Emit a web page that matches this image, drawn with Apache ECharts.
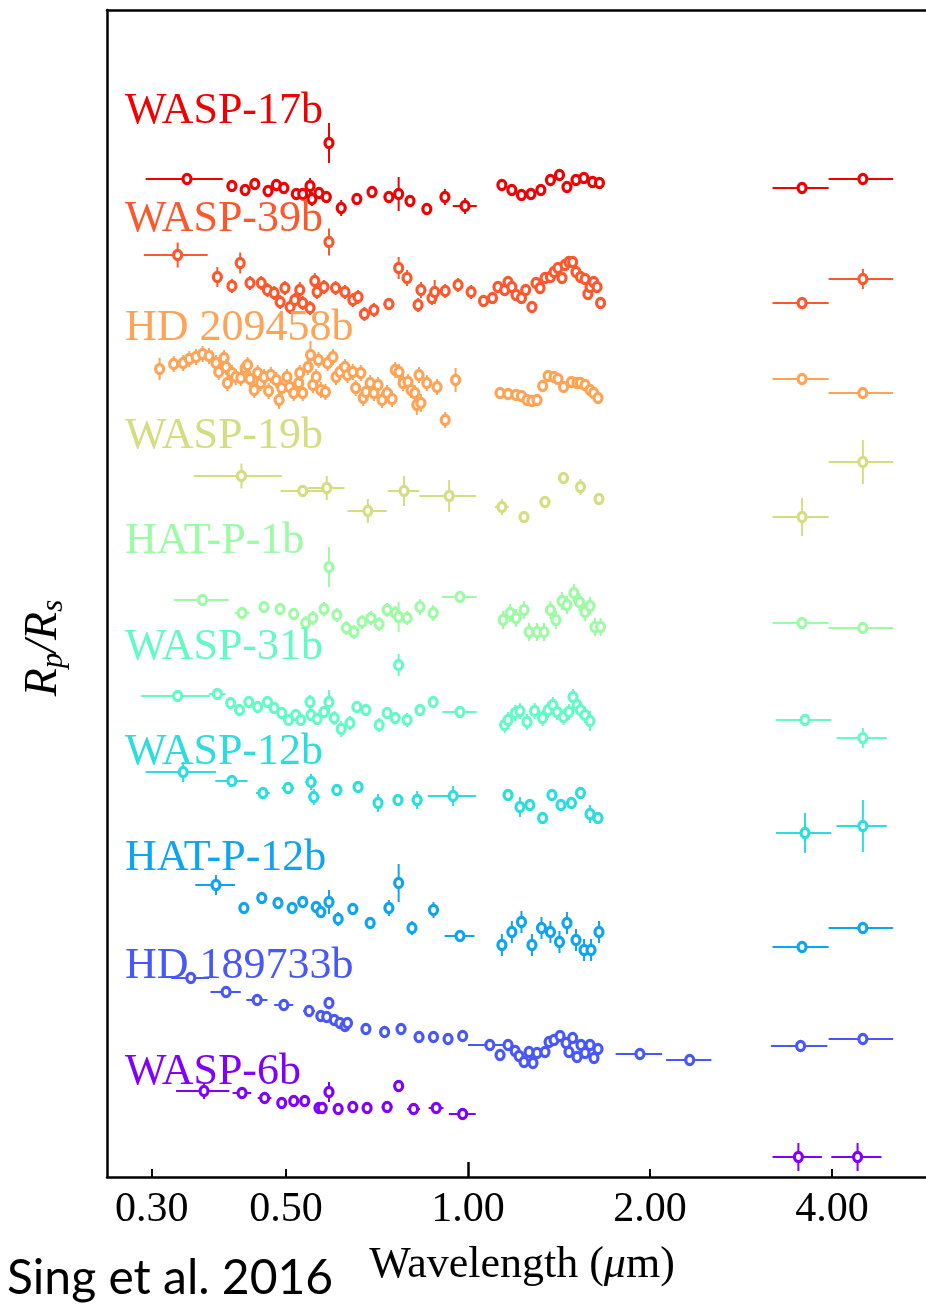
<!DOCTYPE html>
<html><head><meta charset="utf-8">
<script src="https://cdn.jsdelivr.net/npm/echarts@6/dist/echarts.min.js"></script>
<style>html,body{margin:0;padding:0;background:#fff;}#c{width:926px;height:1305px;}</style>
</head><body><div id="c"></div>
<script>
// Each point: [wavelength (um), Rp/Rs (offset, arbitrary units), half bin width (um), 1-sigma error]
const WASP17b = [
 [0.343,99.8,0.05,0.3],[0.407,99.1,0.008,0.6],[0.428,98.7,0.008,0.6],[0.444,99.3,0.008,0.6],[0.467,98.6,0.008,0.6],
 [0.482,99.2,0.008,0.6],[0.496,98.9,0.008,0.6],[0.520,98.3,0.008,0.6],[0.533,98.3,0.008,0.6],[0.548,99.1,0.008,0.8],
 [0.552,97.8,0.008,0.7],[0.567,98.4,0.008,0.6],[0.583,98.0,0.008,0.6],[0.589,103.4,0.003,2.0],[0.617,96.9,0.012,0.8],
 [0.655,97.8,0.01,0.6],[0.694,98.5,0.01,0.6],[0.740,98.0,0.01,0.6],[0.768,98.3,0.004,1.7],[0.802,97.6,0.01,0.6],
 [0.855,96.8,0.01,0.6],[0.916,98.0,0.015,0.8],[0.989,97.1,0.045,0.8],
 [1.138,99.2,0.01,0.6],[1.182,98.7,0.01,0.5],[1.226,98.2,0.01,0.5],[1.271,98.3,0.01,0.5],[1.320,98.7,0.01,0.5],
 [1.369,99.7,0.01,0.5],[1.417,100.2,0.01,0.6],[1.458,99.0,0.01,0.5],[1.509,99.7,0.01,0.5],[1.555,99.9,0.01,0.6],
 [1.607,99.5,0.01,0.6],[1.650,99.4,0.01,0.6],
 [3.57,98.9,0.38,0.3],[4.50,99.8,0.55,0.3]
];
const WASP39b = [
 [0.331,92.2,0.04,1.25],[0.385,90.0,0.006,1.0],[0.407,89.1,0.006,0.7],[0.420,91.4,0.006,1.05],[0.436,89.4,0.006,0.7],
 [0.455,89.4,0.006,0.7],[0.466,88.7,0.006,0.7],[0.478,88.4,0.006,0.7],[0.489,87.5,0.006,0.7],[0.498,88.9,0.006,0.7],
 [0.508,87.0,0.006,0.7],[0.517,87.7,0.006,0.7],[0.527,88.7,0.006,0.8],[0.533,87.4,0.006,0.7],[0.548,86.9,0.006,0.7],
 [0.558,89.6,0.006,0.8],[0.563,88.5,0.006,0.7],[0.578,89.0,0.006,0.7],[0.589,93.5,0.003,1.35],[0.604,88.9,0.006,0.7],
 [0.626,88.5,0.006,0.7],[0.645,87.7,0.006,0.7],[0.658,88.0,0.006,0.7],[0.674,86.3,0.006,0.7],[0.699,86.7,0.006,0.7],
 [0.740,87.3,0.015,0.5],[0.768,90.9,0.004,1.1],[0.793,89.9,0.006,0.8],[0.827,87.2,0.006,0.7],[0.836,88.7,0.006,0.8],
 [0.872,87.9,0.006,0.7],[0.881,88.5,0.006,1.2],[0.917,88.6,0.006,0.7],[0.963,89.2,0.006,0.7],[1.012,88.5,0.006,0.7],
 [1.061,87.6,0.006,0.6],[1.098,87.9,0.006,0.6],[1.121,89.0,0.006,0.6],[1.150,88.7,0.006,0.6],[1.165,89.5,0.006,0.6],
 [1.182,89.0,0.006,0.6],[1.201,88.2,0.006,0.6],[1.226,87.9,0.006,0.6],[1.246,88.7,0.006,0.6],[1.276,87.0,0.006,0.6],
 [1.296,89.4,0.006,0.6],[1.316,88.9,0.006,0.6],[1.341,89.9,0.006,0.6],[1.369,90.0,0.006,0.6],[1.388,90.5,0.006,0.6],
 [1.409,90.9,0.006,0.6],[1.431,89.9,0.006,0.6],[1.447,91.2,0.006,0.6],[1.469,91.5,0.006,0.6],[1.490,91.5,0.006,0.6],
 [1.509,90.5,0.006,0.6],[1.535,90.0,0.006,0.6],[1.562,89.8,0.006,0.6],[1.579,88.3,0.006,0.6],[1.592,89.0,0.006,0.6],
 [1.614,89.5,0.006,0.6],[1.635,89.0,0.006,0.6],[1.657,87.4,0.006,0.6],
 [3.57,87.4,0.38,0.4],[4.50,89.8,0.55,1.0]
];
const HD209458b = [
 [0.309,80.8,0.004,1.1],[0.326,81.3,0.004,0.8],[0.338,81.4,0.004,0.8],[0.346,81.8,0.004,0.8],[0.355,82.0,0.004,0.8],
 [0.364,82.3,0.004,0.8],[0.373,82.1,0.004,0.8],[0.383,81.4,0.004,0.8],[0.387,80.5,0.004,0.8],[0.395,81.9,0.004,0.8],
 [0.398,81.0,0.004,0.8],[0.400,79.4,0.004,0.8],[0.407,80.4,0.004,0.8],[0.413,80.0,0.004,0.8],[0.421,79.9,0.004,0.8],
 [0.428,80.9,0.004,0.8],[0.432,81.2,0.004,0.8],[0.436,79.8,0.004,0.8],[0.443,78.7,0.004,0.8],[0.449,80.4,0.004,0.8],
 [0.454,79.4,0.004,0.8],[0.460,80.0,0.004,0.8],[0.468,78.6,0.004,0.8],[0.472,80.2,0.004,0.8],[0.482,79.7,0.004,0.8],
 [0.487,77.7,0.004,0.9],[0.492,78.9,0.004,0.8],[0.502,80.0,0.004,0.8],[0.507,79.0,0.004,0.8],[0.515,78.4,0.004,0.8],
 [0.525,79.4,0.004,0.8],[0.527,80.4,0.004,0.8],[0.533,78.4,0.004,0.8],[0.544,81.0,0.004,0.8],[0.549,82.2,0.004,1.4],
 [0.554,79.2,0.004,0.8],[0.561,80.0,0.004,0.8],[0.566,81.7,0.004,0.8],[0.571,78.7,0.004,0.8],[0.581,78.5,0.004,0.8],
 [0.586,81.4,0.004,0.8],[0.598,82.0,0.004,0.8],[0.605,80.0,0.004,0.8],[0.614,80.5,0.004,0.8],[0.626,81.0,0.004,0.8],
 [0.632,80.2,0.004,0.8],[0.645,80.5,0.004,0.8],[0.652,78.9,0.004,0.8],[0.665,80.4,0.004,0.8],[0.671,77.9,0.004,0.8],
 [0.678,78.5,0.004,0.8],[0.689,79.4,0.004,0.8],[0.699,78.4,0.004,0.8],[0.710,79.2,0.004,0.8],[0.721,77.7,0.004,0.8],
 [0.735,78.4,0.004,0.8],[0.749,77.8,0.004,0.8],[0.758,80.7,0.004,0.8],[0.769,80.5,0.004,0.8],[0.781,79.4,0.004,0.8],
 [0.796,79.5,0.004,0.8],[0.805,78.7,0.004,0.8],[0.817,78.4,0.004,0.8],[0.823,77.2,0.004,1.0],[0.830,80.2,0.004,0.8],
 [0.836,77.4,0.004,0.9],[0.855,79.4,0.004,0.8],[0.889,79.0,0.004,0.8],[0.917,75.7,0.004,0.8],[0.954,79.7,0.004,1.2],
 [1.130,78.4,0.012,0.4],[1.165,78.3,0.012,0.4],[1.201,78.2,0.012,0.4],[1.226,78.1,0.012,0.4],[1.252,77.7,0.012,0.4],
 [1.276,77.6,0.012,0.4],[1.301,77.7,0.012,0.4],[1.329,79.1,0.012,0.4],[1.357,80.1,0.012,0.4],[1.388,80.0,0.012,0.4],
 [1.409,79.8,0.012,0.4],[1.439,79.0,0.012,0.4],[1.483,79.5,0.012,0.4],[1.515,79.4,0.012,0.4],[1.535,79.4,0.012,0.4],
 [1.562,79.2,0.012,0.4],[1.592,78.7,0.012,0.4],[1.614,78.4,0.012,0.4],[1.641,77.9,0.012,0.4],
 [3.57,79.8,0.38,0.4],[4.50,78.4,0.55,0.3]
];
const WASP19b = [
 [0.422,70.1,0.07,1.25],[0.533,68.6,0.043,0.6],[0.584,68.9,0.041,1.2],[0.683,66.6,0.051,1.2],[0.784,68.6,0.047,1.5],
 [0.931,68.1,0.1,1.6],[1.138,67.0,0.03,0.8],[1.238,66.0,0.015,0.6],[1.341,67.5,0.015,0.6],[1.439,69.9,0.015,0.6],
 [1.535,69.0,0.015,0.8],[1.647,67.8,0.015,0.6],
 [3.57,66.0,0.38,1.9],[4.50,71.5,0.55,2.2]
];
const HATP1b = [
 [0.364,57.7,0.038,0.4],[0.423,56.4,0.012,0.5],[0.460,57.0,0.008,0.5],[0.489,56.8,0.008,0.5],[0.515,56.3,0.008,0.5],
 [0.539,55.4,0.008,0.7],[0.554,55.9,0.008,0.7],[0.578,56.8,0.008,0.7],[0.589,61.0,0.003,2.0],[0.607,56.2,0.008,0.7],
 [0.629,54.9,0.008,0.7],[0.648,54.5,0.008,0.7],[0.668,55.5,0.008,0.7],[0.691,55.9,0.008,0.7],[0.713,55.3,0.008,0.7],
 [0.735,56.7,0.008,0.7],[0.758,56.4,0.008,0.7],[0.768,56.0,0.004,1.5],[0.793,55.9,0.008,0.7],[0.833,57.0,0.008,0.8],
 [0.876,56.4,0.008,0.8],[0.970,58.0,0.064,0.6],
 [1.143,55.7,0.01,0.9],[1.174,56.4,0.01,0.9],[1.201,55.9,0.01,0.9],[1.238,56.7,0.01,0.9],[1.262,54.5,0.01,0.9],
 [1.301,54.5,0.01,0.9],[1.336,54.5,0.01,0.9],[1.369,56.7,0.01,0.9],[1.398,55.7,0.01,0.9],[1.431,57.6,0.01,0.9],
 [1.458,57.2,0.01,0.9],[1.497,58.4,0.01,0.9],[1.529,57.5,0.01,0.9],[1.562,56.5,0.01,0.9],[1.592,57.1,0.01,0.9],
 [1.622,55.0,0.01,0.9],[1.657,55.0,0.01,0.9],
 [3.57,55.4,0.38,0.4],[4.50,54.9,0.55,0.3]
];
const WASP31b = [
 [0.331,48.1,0.043,0.4],[0.385,48.3,0.012,0.4],[0.405,47.4,0.008,0.6],[0.419,46.7,0.008,0.6],[0.434,47.5,0.008,0.6],
 [0.449,47.0,0.008,0.6],[0.466,47.5,0.008,0.6],[0.478,46.9,0.008,0.6],[0.492,46.4,0.008,0.6],[0.505,45.7,0.008,0.6],
 [0.519,46.2,0.008,0.6],[0.529,45.7,0.008,0.6],[0.548,47.5,0.008,0.7],[0.550,46.2,0.008,0.6],[0.563,45.8,0.008,0.6],
 [0.578,46.5,0.008,0.6],[0.589,47.5,0.003,1.2],[0.601,45.9,0.008,0.7],[0.617,44.8,0.008,0.8],[0.638,45.4,0.008,0.7],
 [0.655,47.0,0.008,0.6],[0.678,46.7,0.008,0.6],[0.713,45.2,0.008,0.7],[0.735,46.4,0.008,0.6],[0.758,45.9,0.008,0.6],
 [0.768,51.2,0.004,1.1],[0.793,45.7,0.008,0.7],[0.833,46.7,0.008,0.6],[0.876,47.5,0.008,0.6],[0.970,46.5,0.064,0.6],
 [1.150,45.2,0.01,0.8],[1.165,45.7,0.01,0.8],[1.197,46.4,0.01,0.8],[1.219,46.6,0.01,0.8],[1.252,45.5,0.01,0.8],
 [1.289,46.6,0.01,0.8],[1.329,45.9,0.01,0.8],[1.357,46.7,0.01,0.8],[1.382,47.2,0.01,0.8],[1.404,46.5,0.01,0.8],
 [1.439,46.0,0.01,0.8],[1.469,46.5,0.01,0.8],[1.492,48.0,0.01,0.8],[1.515,47.2,0.01,0.8],[1.535,46.7,0.01,0.8],
 [1.562,46.2,0.01,0.8],[1.592,45.6,0.01,1.0],
 [3.61,45.7,0.38,0.3],[4.50,43.9,0.43,1.0]
];
const WASP12b = [
 [0.338,40.5,0.045,1.0],[0.407,39.6,0.025,0.6],[0.458,38.4,0.012,0.5],[0.504,38.9,0.012,0.5],[0.550,39.5,0.012,0.8],
 [0.556,38.0,0.012,0.8],[0.607,38.7,0.012,0.6],[0.658,39.0,0.012,0.6],[0.710,37.4,0.012,0.9],[0.766,37.7,0.012,0.6],
 [0.824,37.7,0.012,0.9],[0.945,38.1,0.087,1.0],
 [1.165,38.2,0.01,0.6],[1.219,37.0,0.01,1.0],[1.266,37.2,0.01,0.6],[1.329,35.9,0.01,0.6],[1.377,38.2,0.01,0.6],
 [1.425,37.2,0.01,0.6],[1.483,37.4,0.01,0.6],[1.535,38.4,0.01,0.6],[1.592,36.3,0.01,0.9],[1.641,35.9,0.01,0.6],
 [3.61,34.4,0.38,2.0],[4.50,35.1,0.43,2.6]
];
const HATP12b = [
 [0.383,29.2,0.029,1.0],[0.426,26.9,0.008,0.6],[0.456,27.9,0.008,0.5],[0.485,27.4,0.008,0.5],[0.512,26.9,0.008,0.5],
 [0.533,27.5,0.008,0.5],[0.561,27.0,0.008,0.6],[0.571,26.5,0.008,0.6],[0.589,27.5,0.003,1.2],[0.610,25.8,0.008,0.7],
 [0.645,26.8,0.01,0.6],[0.689,25.4,0.01,0.6],[0.740,26.9,0.01,0.8],[0.768,29.4,0.004,1.9],[0.808,24.9,0.01,0.7],
 [0.877,26.7,0.012,0.8],[0.970,24.1,0.055,0.5],
 [1.138,23.2,0.008,1.1],[1.182,24.5,0.008,1.1],[1.226,25.5,0.008,1.1],[1.276,23.2,0.008,1.1],[1.323,24.9,0.008,1.1],
 [1.369,24.5,0.008,1.1],[1.417,23.5,0.008,1.1],[1.458,25.4,0.008,1.1],[1.509,23.7,0.008,1.1],[1.556,22.7,0.008,1.1],
 [1.598,22.7,0.008,1.1],[1.647,24.5,0.008,1.1],
 [3.57,23.0,0.38,0.3],[4.50,24.9,0.55,0.3]
];
const HD189733b = [
 [0.348,19.9,0.025,0.3],[0.398,18.5,0.023,0.3],[0.448,17.7,0.018,0.3],[0.496,17.2,0.018,0.3],[0.546,16.6,0.012,0.3],
 [0.571,16.1,0.005,0.3],[0.584,16.0,0.005,0.3],[0.589,17.4,0.003,0.6],[0.601,15.7,0.005,0.3],[0.614,15.4,0.005,0.3],
 [0.626,15.1,0.005,0.3],[0.632,15.4,0.005,0.3],[0.678,14.8,0.01,0.3],[0.728,14.5,0.01,0.3],[0.775,14.8,0.01,0.3],
 [0.830,14.0,0.01,0.3],[0.877,14.0,0.01,0.3],[0.927,13.8,0.01,0.3],[0.980,14.1,0.01,0.3],[1.087,13.2,0.087,0.3],
 [1.130,12.2,0.005,0.4],[1.165,13.2,0.005,0.4],[1.197,12.6,0.005,0.4],[1.215,12.1,0.005,0.4],[1.238,11.5,0.005,0.4],
 [1.262,12.5,0.005,0.4],[1.281,11.4,0.005,0.4],[1.301,12.4,0.005,0.4],[1.341,12.5,0.005,0.4],[1.362,13.5,0.005,0.4],
 [1.388,13.7,0.005,0.4],[1.420,14.1,0.005,0.4],[1.453,13.4,0.005,0.4],[1.469,12.5,0.005,0.4],[1.490,13.9,0.005,0.4],
 [1.515,12.0,0.005,0.4],[1.538,13.2,0.005,0.4],[1.562,12.4,0.005,0.4],[1.592,13.2,0.005,0.4],[1.616,11.9,0.005,0.4],
 [1.641,12.8,0.005,0.4],[1.925,12.3,0.17,0.3],[2.327,11.7,0.2,0.3],
 [3.55,13.1,0.38,0.3],[4.50,13.8,0.55,0.3]
];
const WASP6b = [
 [0.366,8.6,0.037,0.8],[0.423,8.4,0.015,0.4],[0.461,7.9,0.012,0.4],[0.492,7.4,0.008,0.4],[0.515,7.6,0.008,0.4],
 [0.537,7.6,0.008,0.4],[0.567,6.9,0.008,0.4],[0.574,6.9,0.008,0.4],[0.589,8.5,0.003,1.0],[0.610,6.8,0.008,0.4],
 [0.645,7.0,0.012,0.4],[0.681,6.9,0.012,0.4],[0.735,7.0,0.015,0.4],[0.768,9.1,0.004,0.6],[0.813,6.8,0.02,0.4],
 [0.886,6.9,0.025,0.4],[0.980,6.3,0.05,0.6],
 [3.52,2.0,0.33,1.4],[4.41,2.0,0.42,1.4]
];
const planetNames = ['WASP-17b','WASP-39b','HD 209458b','WASP-19b','HAT-P-1b','WASP-31b','WASP-12b','HAT-P-12b','HD 189733b','WASP-6b'];
const planetData = [WASP17b, WASP39b, HD209458b, WASP19b, HATP1b, WASP31b, WASP12b, HATP12b, HD189733b, WASP6b];
const tickLabels = [0.3, 0.5, 1, 2, 4];
const minorTicks = [0.3, 0.5, 2, 4];
const majorTicks = [1];

// styling
const colors = ['#f00000','#ff572c','#ffa457','#d4dd80','#9cfba4','#63fbc3','#2bdddd','#0ea4f0','#4757fb','#8000ff'];
const labelY = [111, 219, 328, 436, 541, 647, 752, 858, 966, 1072];
const serif = '"Liberation Serif", "DejaVu Serif", serif';

function errRender(color) {
  return function (params, api) {
    const x = api.value(0), y = api.value(1), xe = api.value(2), ye = api.value(3);
    const p = api.coord([x, y]);
    const ch = [];
    if (xe > 0) {
      const a = api.coord([x - xe, y]), b = api.coord([x + xe, y]);
      ch.push({type: 'line', shape: {x1: a[0], y1: a[1], x2: b[0], y2: b[1]}, style: {stroke: color, lineWidth: 2}});
    }
    if (ye > 0) {
      const a = api.coord([x, y + ye]), b = api.coord([x, y - ye]);
      ch.push({type: 'line', shape: {x1: a[0], y1: a[1], x2: b[0], y2: b[1]}, style: {stroke: color, lineWidth: 2}});
    }
    ch.push({type: 'ellipse', shape: {cx: p[0], cy: p[1], rx: 4.0, ry: 4.6}, style: {fill: '#ffffff', stroke: color, lineWidth: 3.2}});
    return {type: 'group', children: ch};
  };
}

const xMin = 0.2529, xMax = 5.968;
const chart = echarts.init(document.getElementById('c'), null, {renderer: 'canvas'});
chart.setOption({
  animation: false,
  backgroundColor: '#ffffff',
  grid: {left: 107, top: 10, width: 830, height: 1167, containLabel: false, outerBoundsMode: 'none'},
  xAxis: [
    {
      type: 'log', logBase: 10, min: xMin, max: xMax, position: 'bottom',
      axisLine: {show: true, lineStyle: {color: '#000', width: 2.5}},
      axisTick: {show: true, inside: true, length: 8, customValues: minorTicks, lineStyle: {color: '#000', width: 2}},
      axisLabel: {show: true, customValues: tickLabels, margin: 12, color: '#000', fontFamily: serif, fontSize: 42,
        formatter: v => Number(v).toFixed(2)},
      splitLine: {show: false}, minorTick: {show: false},
      name: '{n|Wavelength (}{m|μ}{n|m)}', nameLocation: 'middle', nameGap: 66,
      nameTextStyle: {rich: {
        n: {fontFamily: serif, fontSize: 44, color: '#000'},
        m: {fontFamily: serif, fontSize: 44, fontStyle: 'italic', color: '#000'}
      }}
    },
    {
      type: 'log', logBase: 10, min: xMin, max: xMax, position: 'bottom',
      axisLine: {show: false},
      axisTick: {show: true, inside: true, length: 15, customValues: majorTicks, lineStyle: {color: '#000', width: 2.5}},
      axisLabel: {show: false}, splitLine: {show: false}
    },
    {
      type: 'log', logBase: 10, min: xMin, max: xMax, position: 'top',
      axisLine: {show: true, lineStyle: {color: '#000', width: 2.5}},
      axisTick: {show: false}, axisLabel: {show: false}, splitLine: {show: false}
    }
  ],
  yAxis: [{
    type: 'value', min: 0, max: 116.7,
    axisLine: {show: true, lineStyle: {color: '#000', width: 2.5}},
    axisTick: {show: false}, axisLabel: {show: false}, splitLine: {show: false}
  }],
  series: planetData.map((d, i) => ({
    type: 'custom', name: planetNames[i], xAxisIndex: 0, yAxisIndex: 0,
    renderItem: errRender(colors[i]), data: d, encode: {x: 0, y: 1}, clip: true, z: 10 - i
  })),
  graphic: [
    ...planetNames.map((n, i) => ({
      type: 'text', x: 125, y: labelY[i], z: 20,
      style: {text: n, fill: colors[i], font: '44px ' + serif, align: 'left', verticalAlign: 'middle'}
    })),
    {
      type: 'text', x: 44, y: 648, rotation: Math.PI / 2, z: 20,
      style: {
        text: '{i|R}{s|p}{i|/R}{s|s}', align: 'center', verticalAlign: 'middle',
        rich: {
          i: {fontFamily: serif, fontStyle: 'italic', fontSize: 46, lineHeight: 50, verticalAlign: 'middle', fill: '#000'},
          s: {fontFamily: serif, fontStyle: 'italic', fontSize: 31, lineHeight: 27, verticalAlign: 'bottom', fill: '#000'}
        }
      }
    },
    {
      type: 'text', x: 7, y: 1279, z: 20,
      style: {text: 'Sing et al. 2016', fill: '#000', font: '48px Lato, "Open Sans", sans-serif', align: 'left', verticalAlign: 'middle'}
    }
  ]
});
</script></body></html>
